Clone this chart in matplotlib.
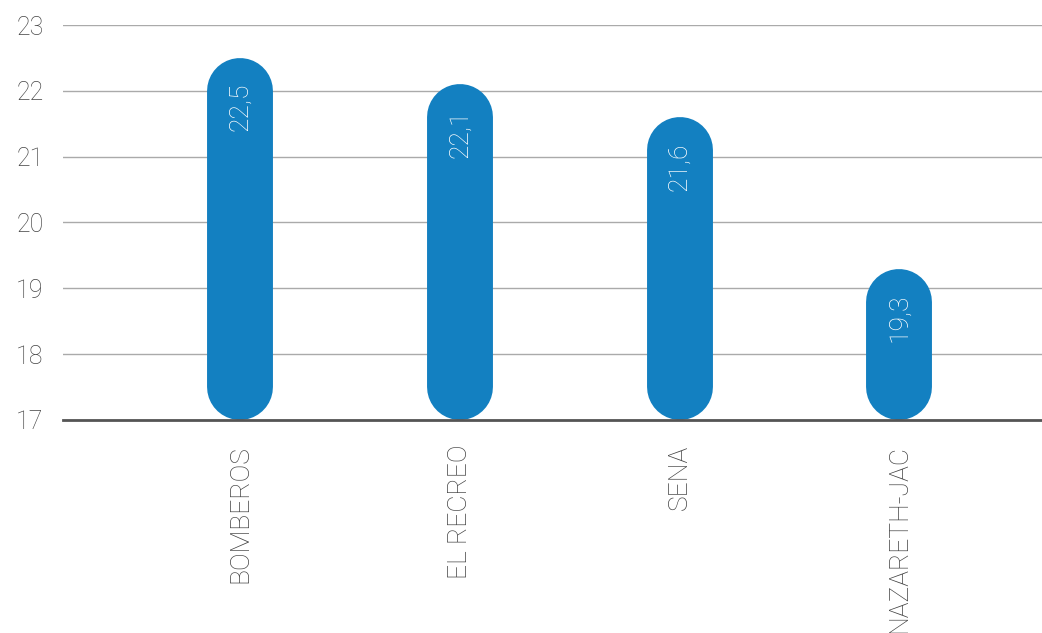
import matplotlib
matplotlib.use("Agg")
import matplotlib.pyplot as plt

categories = ["BOMBEROS", "EL RECREO", "SENA", "NAZARETH-JAC"]
values = [22.5, 22.1, 21.6, 19.3]
value_labels = ["22,5", "22,1", "21,6", "19,3"]
y_ticks = [17, 18, 19, 20, 21, 22, 23]

bar_color = "#1380c1"
text_color = "#444444"
base = 17
bar_width = 0.30

plt.rcParams["font.family"] = ["Roboto", "DejaVu Sans"]
plt.rcParams["font.weight"] = "light"

fig = plt.figure(figsize=(10.42, 6.33), dpi=100)
ax = fig.add_axes([0.0605, 0.3365, 0.9395, 0.6240])
ax.set_xlim(-0.806, 3.65)
ax.set_ylim(17, 23)

# px per data unit, so the rounded ends fit inside base..value
p0 = ax.transData.transform((0, 17))
p1 = ax.transData.transform((bar_width, 18))
w_px = p1[0] - p0[0]
py_unit = p1[1] - p0[1]
lw = w_px * 72 / fig.dpi
r = (w_px / 2) / py_unit

for i, v in enumerate(values):
    ax.plot([i, i], [base + r, v - r], color=bar_color, linewidth=lw,
            solid_capstyle="round", zorder=3)
    ax.text(i, v - 0.38, value_labels[i], rotation=90, ha="center", va="top",
            color="white", fontsize=19, zorder=4)

ax.set_yticks(y_ticks)
ax.set_yticklabels([str(t) for t in y_ticks], fontsize=18, color=text_color)
ax.set_xticks(range(len(categories)))
ax.set_xticklabels(categories, rotation=90, fontsize=19, color=text_color,
                   va="top")
ax.tick_params(axis="both", length=0)
ax.tick_params(axis="y", pad=14)
ax.tick_params(axis="x", pad=18)

ax.grid(axis="y", color="#aaaaaa", linewidth=1.0, zorder=0)
for s in ["left", "right", "top"]:
    ax.spines[s].set_visible(False)
ax.spines["bottom"].set_color("#555555")
ax.spines["bottom"].set_linewidth(2)
ax.spines["bottom"].set_zorder(5)

fig.savefig("out.png", dpi=100)
